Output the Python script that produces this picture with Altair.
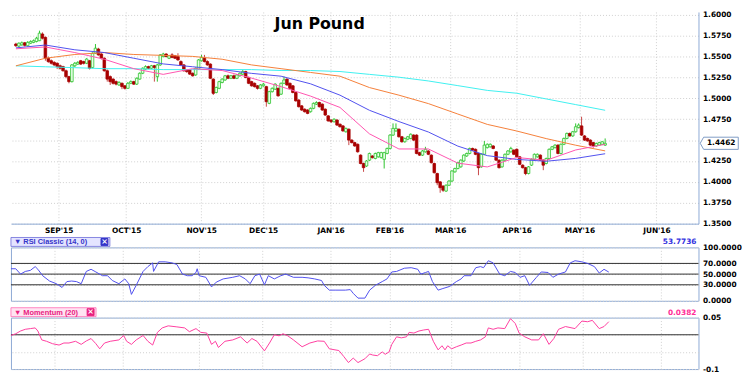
import json
import altair as alt
import pandas as pd

# ---------------- data ----------------
opens = [
    1.5650, 1.5625, 1.5640, 1.5665, 1.5630, 1.5660, 1.5670, 1.5680, 1.5690, 1.5770,
    1.5730, 1.5480, 1.5450, 1.5430, 1.5420, 1.5390, 1.5380, 1.5330, 1.5260, 1.5200,
    1.5390, 1.5410, 1.5450, 1.5440, 1.5420, 1.5450, 1.5370, 1.5540, 1.5590, 1.5530,
    1.5480, 1.5330, 1.5260, 1.5230, 1.5200, 1.5160, 1.5180, 1.5150, 1.5120, 1.5180,
    1.5200, 1.5170, 1.5230, 1.5300, 1.5350, 1.5380, 1.5360, 1.5390, 1.5260, 1.5400,
    1.5500, 1.5530, 1.5480, 1.5520, 1.5510, 1.5500, 1.5440, 1.5400, 1.5340, 1.5340,
    1.5300, 1.5280, 1.5350, 1.5450, 1.5480, 1.5440, 1.5410, 1.5230, 1.5070, 1.5120,
    1.5190, 1.5220, 1.5270, 1.5240, 1.5270, 1.5240, 1.5270, 1.5290, 1.5320, 1.5250,
    1.5200, 1.5180, 1.5150, 1.5120, 1.5150, 1.5140, 1.4940, 1.5080, 1.5110, 1.5120,
    1.5050, 1.5180, 1.5230, 1.5180, 1.5150, 1.5070, 1.4980, 1.4910, 1.4870, 1.4860,
    1.4840, 1.4880, 1.4930, 1.4950, 1.4930, 1.4870, 1.4790, 1.4740, 1.4720, 1.4740,
    1.4690, 1.4670, 1.4600, 1.4630, 1.4500, 1.4470, 1.4450, 1.4320, 1.4220, 1.4190,
    1.4260, 1.4310, 1.4280, 1.4300, 1.4290, 1.4270, 1.4340, 1.4400, 1.4560, 1.4610,
    1.4630, 1.4540, 1.4480, 1.4510, 1.4520, 1.4560, 1.4560, 1.4350, 1.4320, 1.4360,
    1.4370, 1.4320, 1.4220, 1.4100, 1.4000, 1.3950, 1.3890, 1.3960, 1.4010, 1.4120,
    1.4160, 1.4180, 1.4250, 1.4310, 1.4340, 1.4400, 1.4390, 1.4340, 1.4180, 1.4330,
    1.4410, 1.4420, 1.4430, 1.4360, 1.4260, 1.4180, 1.4260, 1.4330, 1.4360, 1.4380,
    1.4390, 1.4300, 1.4200, 1.4170, 1.4100, 1.4200, 1.4270, 1.4300, 1.4320, 1.4260,
    1.4220, 1.4280, 1.4390, 1.4410, 1.4440, 1.4340, 1.4450, 1.4520, 1.4580, 1.4550,
    1.4600, 1.4650, 1.4670, 1.4550, 1.4520, 1.4500, 1.4470, 1.4430, 1.4440, 1.4450,
    1.4440,
]
closes = [
    1.5630, 1.5660, 1.5665, 1.5635, 1.5670, 1.5680, 1.5690, 1.5720, 1.5780, 1.5720,
    1.5480, 1.5440, 1.5420, 1.5400, 1.5380, 1.5360, 1.5330, 1.5260, 1.5200, 1.5400,
    1.5420, 1.5430, 1.5410, 1.5420, 1.5470, 1.5360, 1.5540, 1.5600, 1.5520, 1.5480,
    1.5330, 1.5230, 1.5200, 1.5180, 1.5170, 1.5190, 1.5140, 1.5120, 1.5180, 1.5200,
    1.5170, 1.5240, 1.5300, 1.5360, 1.5380, 1.5360, 1.5390, 1.5370, 1.5400, 1.5520,
    1.5530, 1.5500, 1.5510, 1.5490, 1.5480, 1.5460, 1.5400, 1.5330, 1.5320, 1.5290,
    1.5270, 1.5360, 1.5460, 1.5490, 1.5440, 1.5400, 1.5240, 1.5060, 1.5130, 1.5200,
    1.5230, 1.5270, 1.5240, 1.5270, 1.5240, 1.5280, 1.5300, 1.5320, 1.5250, 1.5180,
    1.5150, 1.5140, 1.5120, 1.5160, 1.5170, 1.4960, 1.5080, 1.5120, 1.5170, 1.5030,
    1.5180, 1.5220, 1.5160, 1.5120, 1.5070, 1.4970, 1.4900, 1.4860, 1.4840, 1.4820,
    1.4880, 1.4940, 1.4950, 1.4900, 1.4860, 1.4800, 1.4730, 1.4720, 1.4750, 1.4680,
    1.4660, 1.4610, 1.4640, 1.4500, 1.4470, 1.4430, 1.4360, 1.4220, 1.4170, 1.4250,
    1.4340, 1.4290, 1.4340, 1.4350, 1.4350, 1.4350, 1.4400, 1.4560, 1.4640, 1.4640,
    1.4540, 1.4480, 1.4520, 1.4540, 1.4570, 1.4500, 1.4340, 1.4320, 1.4370, 1.4390,
    1.4330, 1.4230, 1.4110, 1.3990, 1.3930, 1.3900, 1.3960, 1.4010, 1.4130, 1.4160,
    1.4230, 1.4260, 1.4320, 1.4340, 1.4400, 1.4380, 1.4330, 1.4170, 1.4330, 1.4440,
    1.4450, 1.4450, 1.4400, 1.4260, 1.4170, 1.4260, 1.4330, 1.4370, 1.4400, 1.4330,
    1.4300, 1.4210, 1.4170, 1.4100, 1.4180, 1.4270, 1.4330, 1.4330, 1.4260, 1.4200,
    1.4280, 1.4390, 1.4420, 1.4440, 1.4340, 1.4450, 1.4520, 1.4580, 1.4550, 1.4600,
    1.4660, 1.4680, 1.4560, 1.4500, 1.4490, 1.4440, 1.4430, 1.4460, 1.4470, 1.4480,
    1.4462,
]
highs = [
    1.5665, 1.5670, 1.5680, 1.5675, 1.5685, 1.5695, 1.5705, 1.5735, 1.5810, 1.5790,
    1.5740, 1.5500, 1.5465, 1.5445, 1.5430, 1.5405, 1.5390, 1.5345, 1.5270, 1.5410,
    1.5435, 1.5445, 1.5460, 1.5450, 1.5480, 1.5460, 1.5550, 1.5650, 1.5605, 1.5545,
    1.5490, 1.5345, 1.5275, 1.5240, 1.5215, 1.5205, 1.5190, 1.5160, 1.5195, 1.5215,
    1.5210, 1.5250, 1.5310, 1.5370, 1.5395, 1.5390, 1.5400, 1.5400, 1.5410, 1.5530,
    1.5545, 1.5540, 1.5520, 1.5540, 1.5520, 1.5540, 1.5455, 1.5410, 1.5350, 1.5350,
    1.5310, 1.5370, 1.5470, 1.5520, 1.5520, 1.5455, 1.5420, 1.5240, 1.5140, 1.5210,
    1.5240, 1.5280, 1.5285, 1.5280, 1.5285, 1.5290, 1.5310, 1.5340, 1.5330, 1.5260,
    1.5210, 1.5190, 1.5160, 1.5170, 1.5185, 1.5150, 1.5090, 1.5130, 1.5180, 1.5130,
    1.5190, 1.5260, 1.5240, 1.5190, 1.5160, 1.5080, 1.4990, 1.4920, 1.4880, 1.4870,
    1.4890, 1.4950, 1.4965, 1.4960, 1.4940, 1.4880, 1.4800, 1.4750, 1.4760, 1.4750,
    1.4700, 1.4680, 1.4650, 1.4640, 1.4510, 1.4480, 1.4460, 1.4330, 1.4230, 1.4260,
    1.4350, 1.4320, 1.4350, 1.4360, 1.4360, 1.4360, 1.4410, 1.4570, 1.4700, 1.4700,
    1.4640, 1.4550, 1.4530, 1.4550, 1.4580, 1.4570, 1.4570, 1.4360, 1.4380, 1.4420,
    1.4380, 1.4330, 1.4230, 1.4110, 1.4010, 1.3960, 1.3970, 1.4020, 1.4140, 1.4170,
    1.4240, 1.4270, 1.4330, 1.4350, 1.4410, 1.4410, 1.4400, 1.4350, 1.4340, 1.4490,
    1.4460, 1.4460, 1.4440, 1.4370, 1.4270, 1.4270, 1.4340, 1.4380, 1.4420, 1.4390,
    1.4400, 1.4310, 1.4210, 1.4180, 1.4190, 1.4280, 1.4340, 1.4340, 1.4330, 1.4270,
    1.4290, 1.4400, 1.4430, 1.4450, 1.4450, 1.4460, 1.4530, 1.4590, 1.4590, 1.4610,
    1.4700, 1.4700, 1.4780, 1.4560, 1.4530, 1.4510, 1.4480, 1.4470, 1.4480, 1.4490,
    1.4520,
]
lows = [
    1.5615, 1.5610, 1.5630, 1.5620, 1.5620, 1.5650, 1.5660, 1.5670, 1.5685, 1.5705,
    1.5450, 1.5425, 1.5405, 1.5385, 1.5350, 1.5345, 1.5320, 1.5240, 1.5180, 1.5190,
    1.5375, 1.5400, 1.5400, 1.5405, 1.5410, 1.5345, 1.5360, 1.5530, 1.5510, 1.5465,
    1.5320, 1.5200, 1.5160, 1.5165, 1.5155, 1.5150, 1.5110, 1.5105, 1.5115, 1.5170,
    1.5160, 1.5160, 1.5225, 1.5290, 1.5340, 1.5350, 1.5350, 1.5200, 1.5200, 1.5390,
    1.5490, 1.5490, 1.5470, 1.5480, 1.5470, 1.5450, 1.5390, 1.5320, 1.5305, 1.5280,
    1.5260, 1.5270, 1.5340, 1.5440, 1.5430, 1.5390, 1.5230, 1.5040, 1.5060, 1.5110,
    1.5180, 1.5210, 1.5230, 1.5230, 1.5230, 1.5230, 1.5260, 1.5280, 1.5240, 1.5170,
    1.5140, 1.5130, 1.5105, 1.5110, 1.5140, 1.4900, 1.4930, 1.5070, 1.5100, 1.5020,
    1.5040, 1.5170, 1.5150, 1.5110, 1.5060, 1.4960, 1.4890, 1.4850, 1.4830, 1.4810,
    1.4830, 1.4870, 1.4920, 1.4890, 1.4850, 1.4790, 1.4720, 1.4705, 1.4710, 1.4670,
    1.4650, 1.4600, 1.4590, 1.4440, 1.4460, 1.4420, 1.4350, 1.4210, 1.4120, 1.4180,
    1.4250, 1.4280, 1.4270, 1.4290, 1.4280, 1.4160, 1.4330, 1.4390, 1.4550, 1.4600,
    1.4530, 1.4470, 1.4470, 1.4500, 1.4510, 1.4490, 1.4330, 1.4310, 1.4310, 1.4350,
    1.4320, 1.4220, 1.4100, 1.3960, 1.3870, 1.3880, 1.3880, 1.3950, 1.4000, 1.4110,
    1.4150, 1.4170, 1.4240, 1.4300, 1.4330, 1.4370, 1.4320, 1.4080, 1.4170, 1.4320,
    1.4400, 1.4410, 1.4390, 1.4250, 1.4160, 1.4170, 1.4250, 1.4320, 1.4350, 1.4320,
    1.4290, 1.4200, 1.4160, 1.4080, 1.4090, 1.4190, 1.4260, 1.4290, 1.4250, 1.4140,
    1.4210, 1.4270, 1.4380, 1.4400, 1.4330, 1.4330, 1.4440, 1.4510, 1.4540, 1.4540,
    1.4590, 1.4640, 1.4550, 1.4490, 1.4480, 1.4430, 1.4410, 1.4420, 1.4430, 1.4440,
    1.4430,
]
days = list(range(len(closes)))

# moving averages, sampled every 10 trading days
ma_days = list(range(0, 201, 10))
ma_pink = [1.5593, 1.5615, 1.5548, 1.5468, 1.5355, 1.5287, 1.5355, 1.5333, 1.5242, 1.5140,
           1.5027, 1.4891, 1.4575, 1.4394, 1.4394, 1.4224, 1.4179, 1.4292, 1.4258, 1.4382, 1.4450]
ma_blue = [1.5604, 1.5638, 1.5581, 1.5548, 1.5480, 1.5412, 1.5378, 1.5344, 1.5299, 1.5265,
           1.5174, 1.5038, 1.4857, 1.4722, 1.4597, 1.4428, 1.4314, 1.4269, 1.4247, 1.4281, 1.4337]
ma_orange = [1.5389, 1.5480, 1.5525, 1.5548, 1.5525, 1.5514, 1.5502, 1.5468, 1.5400, 1.5355,
             1.5310, 1.5265, 1.5129, 1.5038, 1.4937, 1.4812, 1.4688, 1.4609, 1.4518, 1.4439, 1.4371]
ma_cyan = [1.5389, 1.5378, 1.5367, 1.5355, 1.5355, 1.5344, 1.5344, 1.5344, 1.5344, 1.5333,
           1.5333, 1.5321, 1.5287, 1.5253, 1.5208, 1.5152, 1.5095, 1.5061, 1.4993, 1.4925, 1.4857]

rsi_days = [0, 1.6, 3.2, 4.8, 6.5, 8.1, 9.0, 10.6, 12.9, 15.2,
            17.1, 18.7, 20.3, 21.9, 23.5, 25.2, 26.8, 28.4, 30.6, 32.3,
            33.9, 36.1, 38.1, 39.4, 40.3, 41.9, 44.2, 45.8, 47.4, 47.7,
            49.4, 51.6, 53.9, 55.5, 57.4, 59.0, 60.6, 61.9, 62.3, 62.9,
            65.2, 67.1, 68.7, 71.0, 74.2, 76.5, 78.4, 80.0, 81.6, 83.2,
            84.8, 86.1, 88.1, 90.3, 91.9, 94.5, 97.4, 99.4, 101.6, 103.9,
            104.8, 106.5, 108.7, 111.9, 113.5, 114.5, 116.1, 118.4, 120.0,
            121.9, 124.2, 125.8, 127.4, 129.0, 131.6, 133.9, 136.1, 137.1, 138.7,
            139.7, 141.0, 142.9, 144.5, 146.8, 149.0, 150.6, 151.6, 153.9, 155.5,
            157.1, 158.1, 159.7, 161.3, 163.5, 165.2, 167.1, 168.7, 170.3, 171.9,
            173.5, 175.8, 177.4, 179.7, 181.3, 183.2, 185.5, 187.1, 188.7, 191.0,
            192.9, 195.2, 196.8, 198.4, 200]
rsi_vals = [60, 60, 50, 55, 57, 64, 59, 47, 37, 32,
            25, 36, 37, 36, 32, 55, 59, 54, 47, 47,
            38, 32, 41, 32, 12, 29, 55, 64, 71, 55,
            73, 73, 71, 68, 50, 47, 47, 53, 60, 47,
            44, 26, 35, 41, 44, 47, 41, 32, 47, 50,
            30, 47, 41, 47, 50, 44, 44, 43, 41, 38,
            29, 20, 20, 20, 21, 14, 5, 5, 20,
            29, 36, 41, 54, 55, 61, 62, 59, 50, 53,
            55, 36, 20, 23, 27, 36, 41, 47, 47, 62,
            64, 62, 75, 71, 50, 47, 55, 53, 44, 47,
            29, 44, 54, 53, 44, 50, 54, 71, 75, 73,
            70, 64, 52, 59, 53.7736]

mom_days = [0, 1.6, 3.2, 4.8, 6.5, 8.1, 9.0, 10.3, 11.9, 13.9,
            16.1, 17.7, 19.4, 21.6, 23.5, 25.2, 26.8, 28.4, 29.7, 31.3,
            33.2, 36.1, 37.7, 38.7, 40.3, 41.9, 44.2, 45.8, 47.4, 49.0,
            50.6, 52.6, 55.5, 58.1, 59.7, 61.9, 63.5, 65.5, 67.1, 68.4,
            69.4, 71.6, 74.2, 76.8, 79.0, 80.6, 82.3, 84.8, 86.5, 88.1,
            89.7, 91.0, 92.6, 94.5, 97.4, 100.0, 102.6, 104.8, 106.5, 109.7,
            111.3, 112.9, 114.5, 116.1, 118.4, 120.0,
            121.0, 122.6, 124.2, 125.2, 126.5, 127.4, 129.0, 130.6, 132.3, 133.2,
            134.8, 136.5, 138.1, 139.7, 141.3, 142.9, 144.2, 145.2, 146.1, 147.4,
            149.0, 150.6, 152.3, 153.9, 155.5, 157.1, 158.7, 159.7, 161.3, 162.9,
            165.2, 167.1, 168.7, 170.0, 171.9, 174.2, 176.5, 178.1, 180.0, 181.6,
            183.2, 185.5, 188.7, 191.0, 192.9, 194.5, 196.8, 198.4, 200]
mom_vals = [-0.002, 0.003, 0.011, 0.016, 0.018, 0.020, 0.011, -0.015, -0.019, -0.026,
            -0.030, -0.024, -0.024, -0.019, -0.028, -0.018, -0.011, -0.026, -0.041, -0.024,
            -0.019, -0.015, -0.002, -0.019, -0.028, -0.015, -0.002, -0.019, -0.030, 0.007,
            0.020, 0.026, 0.023, 0.020, 0.009, 0.018, 0.007, 0.005, -0.028, -0.019,
            -0.037, -0.019, -0.015, -0.006, -0.024, -0.011, -0.019, -0.047, -0.024, 0.000,
            -0.003, 0.003, -0.003, -0.015, -0.035, -0.024, -0.018, -0.019, -0.041, -0.046,
            -0.063, -0.081, -0.068, -0.081, -0.070, -0.056,
            -0.059, -0.061, -0.050, -0.057, -0.050, -0.028, -0.006, -0.009, -0.006, 0.007,
            0.005, 0.011, 0.014, 0.016, -0.019, -0.044, -0.032, -0.044, -0.032, -0.041,
            -0.035, -0.030, -0.024, -0.024, -0.019, -0.015, -0.006, 0.020, 0.016, 0.020,
            0.018, 0.047, 0.033, 0.005, -0.006, -0.015, -0.015, 0.003, -0.028, -0.011,
            0.016, 0.024, 0.018, 0.040, 0.038, 0.042, 0.018, 0.024, 0.0382]

month_days = [14.5, 37.4, 62.9, 83.9, 106.8, 126.8, 147.4, 170.0, 191.3, 217.4]
month_names = ["SEP'15", "OCT'15", "NOV'15", "DEC'15", "JAN'16", "FEB'16",
               "MAR'16", "APR'16", "MAY'16", "JUN'16"]
price_ticks = [1.35, 1.375, 1.40, 1.425, 1.45, 1.475, 1.50, 1.525, 1.55, 1.575, 1.60]
rsi_ticks = [0, 30, 50, 70, 100]
rsi_levels = [30, 50, 70]
mom_ticks = [-0.1, -0.05, 0, 0.05]

# ---------------- styling ----------------
W = 695
H_MAIN = 214
H_RSI = 54
H_MOM = 52
FONT = "DejaVu Sans"
TAB_FONT = "Liberation Sans"
GRID = "#cfcfcf"
FRAME = "#8eaad6"
UP = "#2ec42e"
UP_FILL = "#eaffea"
DN = "#a80000"
DN_WICK = "#c84848"
C_PINK = "#ff55b0"
C_BLUE = "#5050ee"
C_ORANGE = "#f5803a"
C_CYAN = "#3ff0f0"
RSI_C = "#5050ee"
MOM_C = "#ff3fa0"

candles = pd.DataFrame({"day": days, "open": opens, "high": highs,
                        "low": lows, "close": closes})
ma_rows = []
for name, vals in [("ma200", ma_cyan), ("ma100", ma_orange), ("ma50", ma_blue), ("ma20", ma_pink)]:
    for d, v in zip(ma_days, vals):
        ma_rows.append({"day": d, "value": v, "series": name})
ma_df = pd.DataFrame(ma_rows)

x_scale = alt.Scale(domain=[0, 230], nice=False, zero=False)
label_expr = f"{json.dumps(month_names)}[indexof({json.dumps(month_days)}, datum.value)]"
x_axis_main = alt.Axis(values=month_days, labelExpr=label_expr, ticks=False, grid=True,
                       gridDash=[1, 2], gridColor=GRID, domainColor=FRAME,
                       labelFontWeight="bold", labelFontSize=7.5, labelColor="black",
                       labelPadding=3, title=None, labelFlush=False, labelOverlap=False)
x_axis_sub = alt.Axis(values=month_days, labels=False, ticks=False, domain=False, grid=True,
                      gridDash=[1, 2], gridColor=GRID, title=None)


def xm():
    return alt.X("day:Q", scale=x_scale, axis=x_axis_main)


def xs():
    return alt.X("day:Q", scale=x_scale, axis=x_axis_sub)


y_scale_main = alt.Scale(domain=[1.35, 1.6034], nice=False, zero=False)
y_axis_main = alt.Axis(orient="right", values=price_ticks, format=".4f",
                       labelExpr="abs(datum.value - 1.45) < 0.001 ? '' : datum.label",
                       grid=True, gridDash=[1, 2], gridColor=GRID, ticks=False,
                       domainColor=FRAME, labelFontWeight="bold", labelFontSize=7.5,
                       labelColor="black", labelPadding=4, title=None)


def ym(field):
    return alt.Y(field, scale=y_scale_main, axis=y_axis_main)


is_up = "datum.close >= datum.open"
wicks = alt.Chart(candles).mark_rule(strokeWidth=1).encode(
    x=xm(), y=ym("low:Q"), y2="high:Q",
    color=alt.condition(is_up, alt.value(UP), alt.value(DN_WICK)))
bodies = alt.Chart(candles).mark_bar(size=2.6, strokeWidth=0.8).encode(
    x=xm(), y=ym("open:Q"), y2="close:Q",
    fill=alt.condition(is_up, alt.value(UP_FILL), alt.value(DN)),
    stroke=alt.condition(is_up, alt.value(UP), alt.value(DN)))
ma_lines = alt.Chart(ma_df).mark_line(strokeWidth=1).encode(
    x=xm(), y=ym("value:Q"),
    color=alt.Color("series:N", legend=None,
                    scale=alt.Scale(domain=["ma200", "ma100", "ma50", "ma20"],
                                    range=[C_CYAN, C_ORANGE, C_BLUE, C_PINK])),
    detail="series:N")
title_txt = alt.Chart(pd.DataFrame({"t": ["Jun Pound"]})).mark_text(
    fontSize=16, fontWeight="bold", font=FONT, color="black").encode(
    text="t:N", x=alt.value(312), y=alt.value(12))
last_df = pd.DataFrame({"price": [closes[-1]]})
marker_box = alt.Chart(last_df).mark_point(
    shape="M -1 0 L -0.82 -0.32 L 1 -0.32 L 1 0.32 L -0.82 0.32 Z",
    size=1480, filled=True, fill="white", stroke="#7f9cc4", strokeWidth=1, opacity=1).encode(
    x=alt.value(W + 21), y=ym("price:Q"))
marker_txt = alt.Chart(last_df).mark_text(
    fontSize=7.5, fontWeight="bold", font=FONT, color="black").encode(
    x=alt.value(W + 23), y=ym("price:Q"), text=alt.Text("price:Q", format=".4f"))

main = alt.layer(wicks, bodies, ma_lines, title_txt, marker_box, marker_txt).properties(
    width=W, height=H_MAIN, view=alt.ViewBackground(stroke="transparent"))


def tab(label, width, fill, stroke, color):
    d = pd.DataFrame({"t": [label]})
    box = alt.Chart(d).mark_rect(fill=fill, stroke=stroke, strokeWidth=0.8).encode(
        x=alt.value(0), x2=alt.value(width), y=alt.value(-10), y2=alt.value(-1))
    txt = alt.Chart(d).mark_text(
        align="left", baseline="middle", fontSize=7.5, fontWeight="bold", font=TAB_FONT,
        color=color).encode(text="t:N", x=alt.value(3), y=alt.value(-5))
    close_box = alt.Chart(d).mark_rect(fill=color, stroke=color).encode(
        x=alt.value(width - 9), x2=alt.value(width - 2), y=alt.value(-9), y2=alt.value(-2))
    close_x = alt.Chart(pd.DataFrame({"t": ["×"]})).mark_text(
        align="center", baseline="middle", fontSize=8, fontWeight="bold", font=FONT,
        color="white").encode(text="t:N", x=alt.value(width - 5.5), y=alt.value(-5.5))
    return [box, txt, close_box, close_x]


# ---------------- RSI panel ----------------
rsi_df = pd.DataFrame({"day": rsi_days, "rsi": rsi_vals})
y_scale_rsi = alt.Scale(domain=[0, 100], nice=False)
y_axis_rsi = alt.Axis(orient="right", values=rsi_ticks, format=".4f", grid=True,
                      gridDash=[1, 2], gridColor=GRID, ticks=False, domain=False,
                      labelFontWeight="bold", labelFontSize=7.5, labelColor="black",
                      labelPadding=4, title=None)
rsi_lvl = alt.Chart(pd.DataFrame({"level": rsi_levels})).mark_rule(
    color="#303030", strokeWidth=1).encode(
    y=alt.Y("level:Q", scale=y_scale_rsi, axis=y_axis_rsi))
rsi_line = alt.Chart(rsi_df).mark_line(color=RSI_C, strokeWidth=1).encode(
    x=xs(), y=alt.Y("rsi:Q", scale=y_scale_rsi, axis=y_axis_rsi))
rsi_last = alt.Chart(pd.DataFrame({"v": [rsi_vals[-1]]})).mark_text(
    align="right", baseline="middle", fontSize=7.5, fontWeight="bold", font=FONT,
    color="#3535e0").encode(text=alt.Text("v:Q", format=".4f"),
                            x=alt.value(W - 2), y=alt.value(-5))
rsi = alt.layer(rsi_lvl, rsi_line,
                *tab("▼ RSI Classic (14, 0)", 100, "#e4e4ff", "#6a6ad8", "#3535c8"),
                rsi_last).properties(
    width=W, height=H_RSI, view=alt.ViewBackground(stroke=FRAME))

# ---------------- Momentum panel ----------------
mom_df = pd.DataFrame({"day": mom_days, "mom": mom_vals})
y_scale_mom = alt.Scale(domain=[-0.1, 0.05], nice=False, zero=False)
y_axis_mom = alt.Axis(orient="right", values=mom_ticks,
                      labelExpr="datum.value == 0.05 ? '0.05' : (datum.value == -0.1 ? '-0.1' : '')",
                      grid=True, gridDash=[1, 2], gridColor=GRID, ticks=False, domain=False,
                      labelFontWeight="bold", labelFontSize=7.5, labelColor="black",
                      labelPadding=4, title=None)
mom_zero = alt.Chart(pd.DataFrame({"level": [0]})).mark_rule(
    color="#303030", strokeWidth=1).encode(
    y=alt.Y("level:Q", scale=y_scale_mom, axis=y_axis_mom))
mom_line = alt.Chart(mom_df).mark_line(color=MOM_C, strokeWidth=1).encode(
    x=xs(), y=alt.Y("mom:Q", scale=y_scale_mom, axis=y_axis_mom))
mom_last = alt.Chart(pd.DataFrame({"v": [mom_vals[-1]]})).mark_text(
    align="right", baseline="middle", fontSize=7.5, fontWeight="bold", font=FONT,
    color="#ff2f98").encode(text=alt.Text("v:Q", format=".4f"),
                            x=alt.value(W - 2), y=alt.value(-5))
mom = alt.layer(mom_zero, mom_line,
                *tab("▼ Momentum (20)", 86, "#ffe4f2", "#ff6ab4", "#e8207e"),
                mom_last).properties(
    width=W, height=H_MOM, view=alt.ViewBackground(stroke=FRAME))

chart = alt.vconcat(main, rsi, mom, spacing=2).properties(
    padding=0, background="white"
).configure_axis(labelFont=FONT).configure_text(font=FONT)

chart.save("out.html", embed_options={"renderer": "svg", "actions": False})
